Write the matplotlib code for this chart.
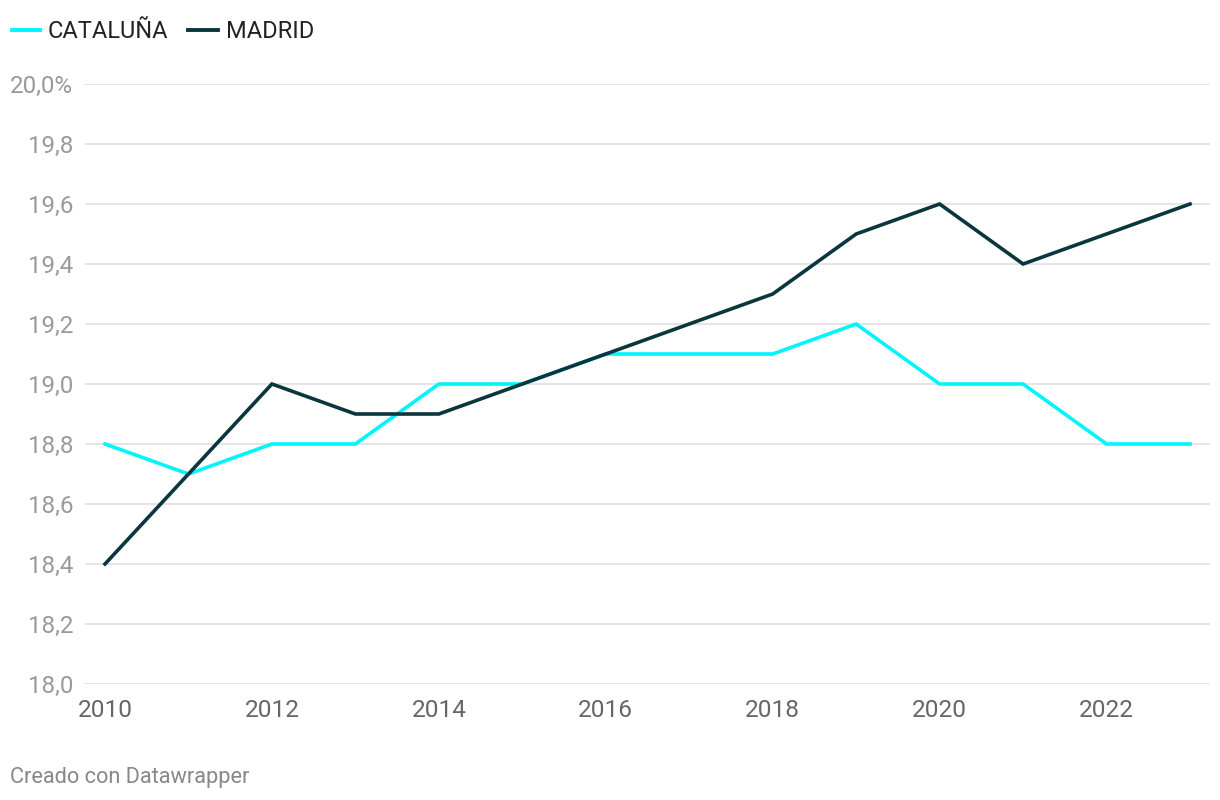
import matplotlib
matplotlib.use("Agg")
import matplotlib.pyplot as plt
from matplotlib.lines import Line2D

plt.rcParams['font.family'] = ['Roboto', 'DejaVu Sans']

years = list(range(2010, 2024))
cataluna = [18.8, 18.7, 18.8, 18.8, 19.0, 19.0, 19.1, 19.1, 19.1, 19.2, 19.0, 19.0, 18.8, 18.8]
madrid = [18.4, 18.7, 19.0, 18.9, 18.9, 19.0, 19.1, 19.2, 19.3, 19.5, 19.6, 19.4, 19.5, 19.6]
yticks = [18.0, 18.2, 18.4, 18.6, 18.8, 19.0, 19.2, 19.4, 19.6, 19.8, 20.0]
ylabels = ['18,0', '18,2', '18,4', '18,6', '18,8', '19,0', '19,2', '19,4', '19,6', '19,8', '20,0%']
xticks = [2010, 2012, 2014, 2016, 2018, 2020, 2022]

c_cat = '#00f5ff'
c_mad = '#0a363d'

fig = plt.figure(figsize=(12.2, 8.0), dpi=100)
ax = fig.add_axes([85/1220, 1-684/800, (1210-85)/1220, 600/800])

px = 1085/13
ax.set_xlim(2010 - 20/px, 2023 + 20/px)
ax.set_ylim(18.0, 20.0)

for v in yticks:
    ax.axhline(v, color='#e0e0e0', lw=1.2, zorder=0)

ax.plot(years, cataluna, color=c_cat, lw=2.6, clip_on=False, zorder=3, solid_joinstyle='miter')
ax.plot(years, madrid, color=c_mad, lw=2.6, clip_on=False, zorder=4, solid_joinstyle='miter')

for s in ax.spines.values():
    s.set_visible(False)
ax.set_yticks(yticks)
ax.set_yticklabels(ylabels, fontsize=17.4, color='#9a9a9a')
ax.set_xticks(xticks)
ax.set_xticklabels([str(x) for x in xticks], fontsize=17.6, color='#666666')
ax.tick_params(axis='both', length=0)
ax.tick_params(axis='y', pad=8.6)
ax.tick_params(axis='x', pad=11)

# legend
fig.add_artist(Line2D([12/1220, 40/1220], [1-30/800, 1-30/800], color=c_cat, lw=2.8))
fig.text(48/1220, 1-31.5/800, 'CATALUÑA', fontsize=17, color='#222222', va='center', ha='left')
fig.add_artist(Line2D([188/1220, 218/1220], [1-30/800, 1-30/800], color=c_mad, lw=2.8))
fig.text(226/1220, 1-31.5/800, 'MADRID', fontsize=17, color='#222222', va='center', ha='left')

fig.text(10/1220, 1-778/800, 'Creado con Datawrapper', fontsize=15.7, color='#888888', va='center', ha='left')

fig.savefig('out.png', dpi=100)
